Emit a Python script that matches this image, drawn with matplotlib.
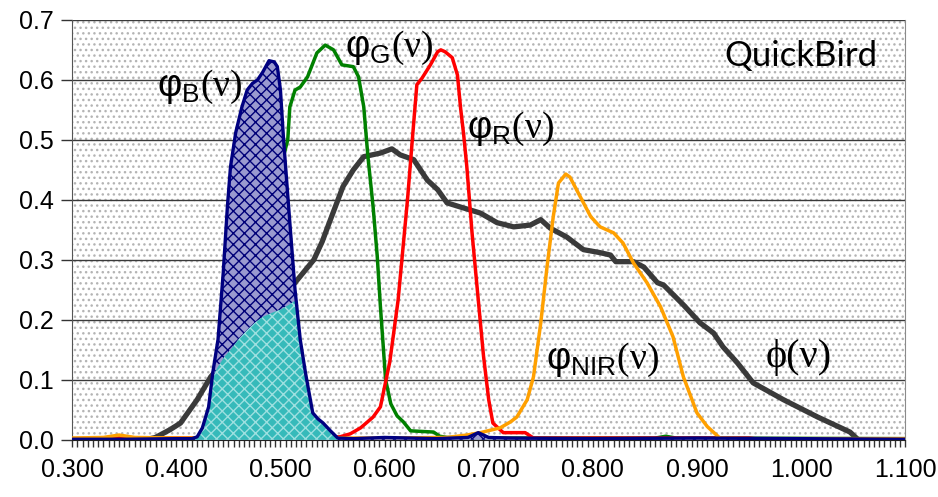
import matplotlib
matplotlib.use('Agg')
import matplotlib.pyplot as plt
import numpy as np

# QuickBird band responses phi_B, phi_G, phi_R, phi_NIR and solar curve phi
blue_x = [0.300, 0.350, 0.400, 0.415, 0.420, 0.425, 0.431, 0.435, 0.440, 0.445, 0.449,
          0.452, 0.457, 0.463, 0.468, 0.473, 0.478, 0.483, 0.489, 0.494, 0.497, 0.500,
          0.503, 0.509, 0.514, 0.519, 0.524, 0.531, 0.536, 0.541, 0.548, 0.555, 0.570,
          0.600, 0.650, 0.680, 0.690, 0.700, 0.720, 0.800, 0.900, 1.100]
blue_y = [0.001, 0.001, 0.002, 0.002, 0.005, 0.020, 0.055, 0.112, 0.167, 0.278, 0.388,
          0.455, 0.512, 0.555, 0.583, 0.594, 0.600, 0.613, 0.632, 0.630, 0.622, 0.583,
          0.500, 0.362, 0.250, 0.167, 0.112, 0.045, 0.035, 0.028, 0.015, 0.003, 0.002,
          0.004, 0.002, 0.004, 0.012, 0.004, 0.003, 0.002, 0.003, 0.001]

teal_x = [0.418, 0.425, 0.431, 0.435, 0.440, 0.446, 0.452, 0.460, 0.468, 0.476, 0.483,
          0.492, 0.500, 0.508, 0.514, 0.519, 0.524, 0.531, 0.536, 0.541, 0.548, 0.555]
teal_y = [0.000, 0.020, 0.055, 0.105, 0.122, 0.138, 0.150, 0.168, 0.183, 0.196, 0.205,
          0.212, 0.217, 0.225, 0.232, 0.167, 0.112, 0.045, 0.035, 0.028, 0.015, 0.003]

sun_x = [0.300, 0.360, 0.370, 0.380, 0.394, 0.404, 0.420, 0.433, 0.450, 0.470, 0.490,
         0.514, 0.532, 0.540, 0.548, 0.560, 0.570, 0.580, 0.596, 0.607, 0.615, 0.628,
         0.641, 0.651, 0.660, 0.673, 0.692, 0.708, 0.724, 0.740, 0.750, 0.759, 0.775,
         0.791, 0.807, 0.817, 0.822, 0.839, 0.849, 0.862, 0.868, 0.887, 0.903, 0.916,
         0.925, 0.939, 0.954, 0.983, 1.016, 1.047, 1.055, 1.100]
sun_y = [0.000, 0.000, 0.000, 0.004, 0.017, 0.028, 0.067, 0.105, 0.140, 0.180, 0.215,
         0.262, 0.300, 0.330, 0.367, 0.422, 0.450, 0.472, 0.478, 0.485, 0.475, 0.467,
         0.433, 0.417, 0.395, 0.388, 0.378, 0.362, 0.355, 0.358, 0.367, 0.353, 0.338,
         0.317, 0.312, 0.308, 0.297, 0.297, 0.288, 0.262, 0.258, 0.225, 0.195, 0.178,
         0.155, 0.128, 0.095, 0.067, 0.038, 0.013, 0.000, 0.000]

green_x = [0.300, 0.440, 0.455, 0.465, 0.475, 0.485, 0.495, 0.507, 0.509, 0.514, 0.519,
           0.526, 0.535, 0.543, 0.551, 0.559, 0.570, 0.575, 0.580, 0.584, 0.589, 0.593,
           0.596, 0.601, 0.606, 0.612, 0.618, 0.625, 0.647, 0.653, 0.660, 0.700, 0.860,
           0.870, 0.880, 1.100]
green_y = [0.002, 0.002, 0.020, 0.080, 0.200, 0.320, 0.420, 0.500, 0.555, 0.583, 0.588,
           0.605, 0.645, 0.658, 0.650, 0.625, 0.622, 0.605, 0.555, 0.472, 0.388, 0.305,
           0.222, 0.100, 0.060, 0.040, 0.030, 0.015, 0.013, 0.006, 0.004, 0.003, 0.003,
           0.006, 0.003, 0.002]

red_x = [0.300, 0.340, 0.346, 0.360, 0.500, 0.540, 0.557, 0.567, 0.577, 0.589, 0.596,
         0.605, 0.613, 0.622, 0.627, 0.631, 0.636, 0.644, 0.651, 0.654, 0.658, 0.665,
         0.670, 0.673, 0.676, 0.679, 0.684, 0.690, 0.695, 0.700, 0.704, 0.714, 0.735,
         0.743, 0.950, 0.960, 1.100]
red_y = [0.002, 0.003, 0.006, 0.003, 0.003, 0.004, 0.005, 0.010, 0.020, 0.038, 0.055,
         0.130, 0.233, 0.400, 0.508, 0.592, 0.603, 0.625, 0.647, 0.650, 0.647, 0.637,
         0.608, 0.553, 0.508, 0.455, 0.345, 0.233, 0.140, 0.067, 0.028, 0.012, 0.012,
         0.003, 0.003, 0.001, 0.001]

nir_x = [0.300, 0.330, 0.345, 0.360, 0.400, 0.600, 0.660, 0.679, 0.692, 0.711, 0.721,
         0.727, 0.737, 0.743, 0.750, 0.756, 0.762, 0.767, 0.774, 0.778, 0.788, 0.798,
         0.807, 0.820, 0.829, 0.839, 0.852, 0.865, 0.877, 0.887, 0.900, 0.910, 0.922,
         0.950, 1.100]
nir_y = [0.003, 0.004, 0.008, 0.004, 0.003, 0.003, 0.004, 0.008, 0.012, 0.020, 0.030,
         0.038, 0.067, 0.105, 0.195, 0.288, 0.372, 0.428, 0.443, 0.438, 0.405, 0.372,
         0.355, 0.345, 0.328, 0.295, 0.262, 0.222, 0.172, 0.105, 0.045, 0.022, 0.003,
         0.002, 0.002]

x_ticks = [0.3, 0.4, 0.5, 0.6, 0.7, 0.8, 0.9, 1.0, 1.1]
y_ticks = [0.0, 0.1, 0.2, 0.3, 0.4, 0.5, 0.6, 0.7]


if __name__ == '__main__':
    plt.rcParams['font.family'] = ['Liberation Sans', 'DejaVu Sans']
    plt.rcParams['mathtext.fontset'] = 'custom'
    plt.rcParams['mathtext.rm'] = 'Liberation Serif'
    plt.rcParams['mathtext.sf'] = 'Liberation Sans'
    plt.rcParams['hatch.linewidth'] = 1.0

    fig = plt.figure(figsize=(9.38, 4.97), dpi=100)
    ax = fig.add_axes([0.077, 0.115, 0.888, 0.845])

    # dotted grey background
    ax.patch.set_facecolor('white')
    ax.patch.set_edgecolor('#b4b4b4')
    ax.patch.set_hatch('...')
    ax.patch.set_linewidth(0)

    ax.plot(sun_x, sun_y, color='#3a3a3a', lw=3.8, zorder=3)
    ax.plot(green_x, green_y, color='#008000', lw=2.5, zorder=4)
    ax.plot(red_x, red_y, color='#ff0000', lw=2.5, zorder=5)
    ax.plot(nir_x, nir_y, color='#ffa000', lw=2.5, zorder=6)

    ax.fill_between(blue_x, blue_y, facecolor='#9a9ad0', edgecolor='#000078',
                    hatch='xxx', lw=0, zorder=7)
    ax.fill_between(teal_x, teal_y, facecolor='#36baba', edgecolor='#9ee0e0',
                    hatch='xxx', lw=0, zorder=8)
    ax.plot(blue_x, blue_y, color='#000080', lw=2.4, zorder=9)

    ax.set_xlim(0.3, 1.1)
    ax.set_ylim(0.0, 0.7)
    ax.set_xticks(x_ticks)
    ax.set_xticklabels(['%.3f' % v for v in x_ticks])
    ax.set_xticks(np.arange(0.3, 1.1001, 0.005), minor=True)
    ax.set_yticks(y_ticks)
    ax.set_yticklabels(['%.1f' % v for v in y_ticks])

    ax.tick_params(axis='x', which='both', length=5, width=1, direction='out',
                   labelsize=18, pad=8, color='#333333')
    ax.tick_params(axis='y', which='major', length=8, width=1, direction='out',
                   labelsize=18, pad=5, color='#333333')

    ax.yaxis.grid(True, color='#3a3a3a', lw=1)
    ax.set_axisbelow(True)

    ax.spines['top'].set_visible(False)
    ax.spines['right'].set_color('#8a8a8a')
    ax.spines['left'].set_color('#555555')
    ax.spines['bottom'].set_color('#222222')

    # curve labels
    lab = dict(fontsize=27, ha='left', va='center', zorder=10)
    ax.text(0.381, 0.588, r'$\mathsf{\varphi}_\mathsf{B}\mathrm{(\nu)}$', **lab)
    ax.text(0.562, 0.653, r'$\mathsf{\varphi}_\mathsf{G}\mathrm{(\nu)}$', **lab)
    ax.text(0.679, 0.518, r'$\mathsf{\varphi}_\mathsf{R}\mathrm{(\nu)}$', **lab)
    ax.text(0.755, 0.133, r'$\mathsf{\varphi}_\mathsf{NIR}\mathrm{(\nu)}$', **lab)
    ax.text(0.966, 0.137, 'ϕ(ν)', fontsize=29, family=['Liberation Serif', 'DejaVu Serif'],
            ha='left', va='center', zorder=10)
    ax.text(1.073, 0.623, 'QuickBird', fontsize=25, family='Lato',
            ha='right', va='baseline', zorder=10)

    plt.savefig('out.png', dpi=100)
    plt.close()
